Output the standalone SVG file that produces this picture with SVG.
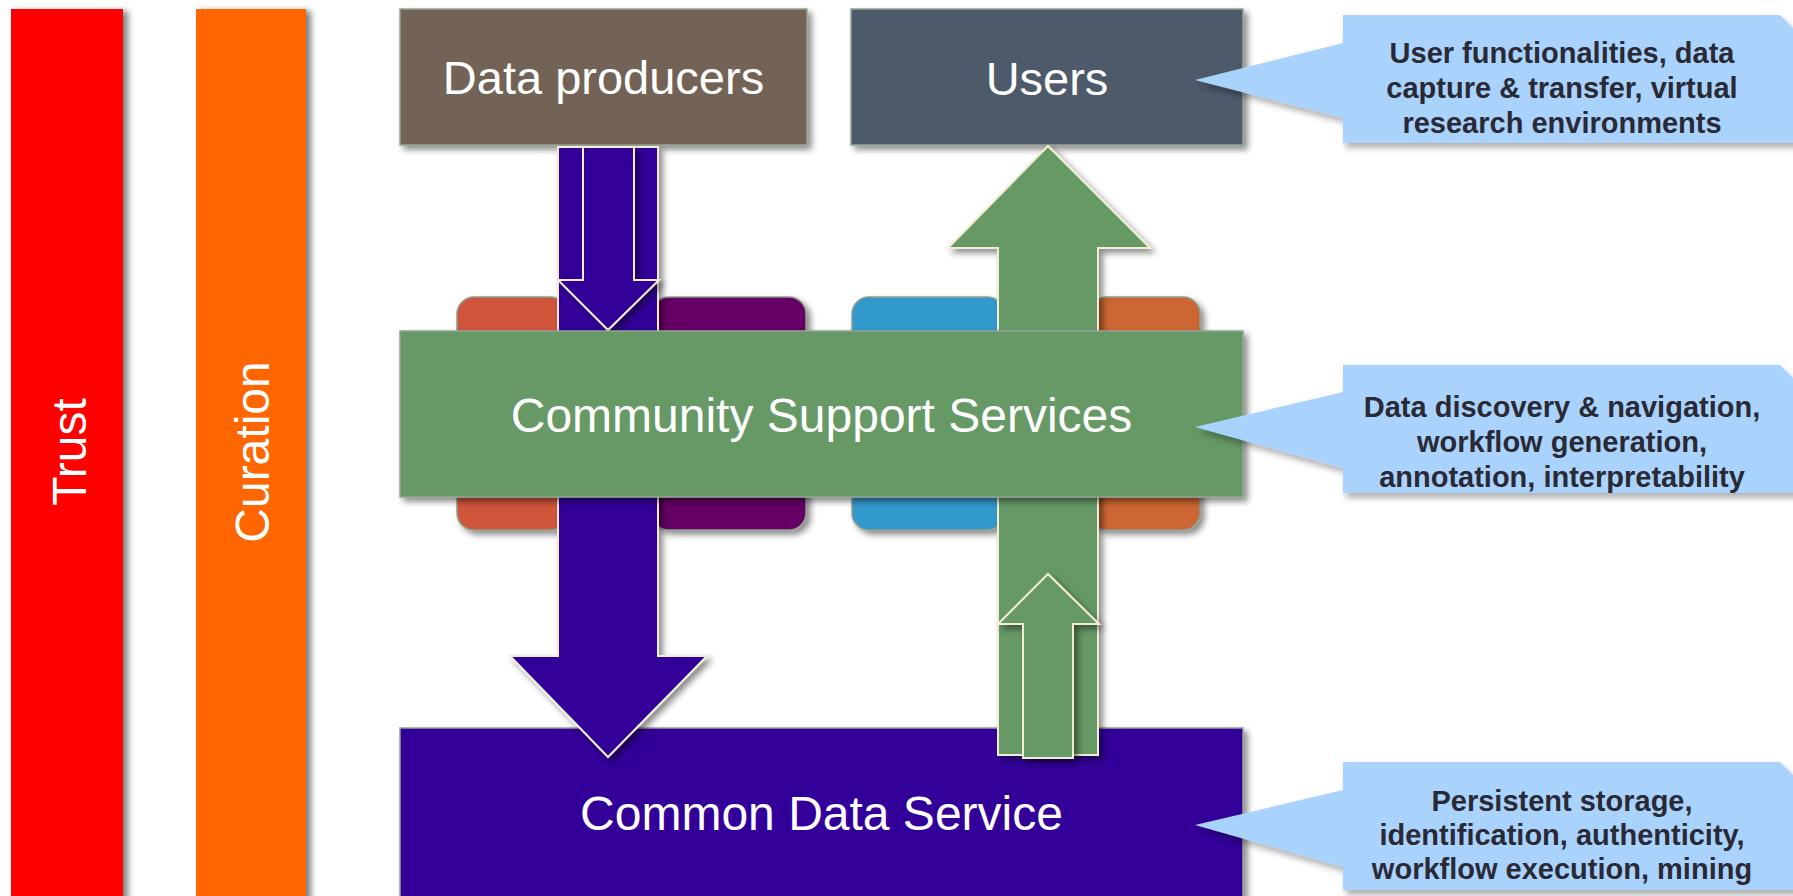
<svg xmlns="http://www.w3.org/2000/svg" width="1793" height="896" viewBox="0 0 1793 896">
  <defs>
    <filter id="shadow" x="-10%" y="-10%" width="130%" height="130%">
      <feDropShadow dx="4" dy="4" stdDeviation="3" flood-color="#000" flood-opacity="0.45"/>
    </filter>
    <filter id="shadowSide" x="-10%" y="-5%" width="130%" height="115%">
      <feDropShadow dx="5" dy="2" stdDeviation="3" flood-color="#000" flood-opacity="0.5"/>
    </filter>
    <filter id="shadowSoft" x="-10%" y="-20%" width="130%" height="150%">
      <feDropShadow dx="3" dy="5" stdDeviation="3" flood-color="#000" flood-opacity="0.3"/>
    </filter>
  </defs>
  <style>
    .box { stroke: #93a493; stroke-width: 1.5; filter: url(#shadow); }
    .tile { stroke: #8f9e8f; stroke-width: 1.5; filter: url(#shadow); }
    .arrow { stroke: #f2eed6; stroke-width: 2; stroke-linejoin: miter; filter: url(#shadow); }
    .band { filter: url(#shadowSide); }
    .big { font-family: "Liberation Sans", Arial, sans-serif; fill: #ffffff; text-anchor: middle; }
    .note { fill: #a9d3fd; filter: url(#shadowSoft); }
    .noteText { font-family: "Liberation Sans", Arial, sans-serif; font-weight: bold; font-size: 29px; fill: #2a2a36; text-anchor: middle; }
  </style>

  <rect width="1793" height="896" fill="#ffffff"/>

  <!-- vertical side bands -->
  <g id="trust">
    <rect class="band" x="11" y="9" width="112" height="900" fill="#ff0000"/>
    <text class="big" font-size="48" transform="translate(86 452) rotate(-90)">Trust</text>
  </g>
  <g id="curation">
    <rect class="band" x="196" y="9" width="110" height="900" fill="#ff6600"/>
    <text class="big" font-size="48" transform="translate(269 452) rotate(-90)">Curation</text>
  </g>

  <!-- community tiles behind the support services bar -->
  <g id="tiles">
    <rect class="tile" x="457" y="297" width="110" height="233" rx="17" fill="#cf543a"/>
    <rect class="tile" x="652" y="297" width="154" height="233" rx="17" fill="#660066"/>
    <rect class="tile" x="852" y="297" width="152" height="233" rx="17" fill="#3399cc"/>
    <rect class="tile" x="1090" y="297" width="110" height="233" rx="17" fill="#cc6633"/>
  </g>

  <g id="data-producers">
    <rect class="box" x="400" y="9" width="407" height="136" fill="#736357"/>
    <text class="big" font-size="47" x="603.5" y="94">Data producers</text>
  </g>

  <g id="users">
    <rect class="box" x="851" y="9" width="392" height="136" fill="#4d5a6a"/>
    <text class="big" font-size="47" x="1047" y="95">Users</text>
  </g>

  <g id="common-data-service">
    <rect class="box" x="400" y="728" width="843" height="180" fill="#330099"/>
    <text class="big" font-size="48" x="821.5" y="830">Common Data Service</text>
  </g>

  <!-- flow arrows -->
  <g id="connectors">
    <polygon class="arrow" fill="#330099" points="558,147 658,147 658,656 707,656 608,757 510,656 558,656"/>
    <polygon class="arrow" fill="#330099" points="583,147 634,147 634,280 659,280 608,330 558,280 583,280"/>
    <polygon class="arrow" fill="#669966" points="998,755 998,248 948,248 1048,146 1150,248 1098,248 1098,755"/>
    <polygon class="arrow" fill="#669966" points="1023,758 1023,624 998,624 1048,574 1099,624 1073,624 1073,758"/>
  </g>

  <g id="community-support-services">
    <rect class="box" x="400" y="331" width="843" height="166" fill="#669966" stroke="none"/>
    <text class="big" font-size="48" x="821.5" y="432">Community Support Services</text>
  </g>

  <!-- callouts -->
  <g id="note-users">
    <path class="note" d="M1343,15 L1780,15 L1805,40 L1805,143 L1343,143 L1343,118 L1195,80 L1343,43 Z"/>
    <text class="noteText" x="1562" y="63">User functionalities, data</text>
    <text class="noteText" x="1562" y="98">capture &amp; transfer, virtual</text>
    <text class="noteText" x="1562" y="133">research environments</text>
  </g>
  <g id="note-community">
    <path class="note" d="M1343,365 L1780,365 L1805,390 L1805,493 L1343,493 L1343,468 L1195,427 L1343,392 Z"/>
    <text class="noteText" x="1562" y="417">Data discovery &amp; navigation,</text>
    <text class="noteText" x="1562" y="452">workflow generation,</text>
    <text class="noteText" x="1562" y="487">annotation, interpretability</text>
  </g>
  <g id="note-common">
    <path class="note" d="M1343,762 L1780,762 L1805,787 L1805,890 L1343,890 L1343,867 L1195,825 L1343,790 Z"/>
    <text class="noteText" x="1562" y="811">Persistent storage,</text>
    <text class="noteText" x="1562" y="845">identification, authenticity,</text>
    <text class="noteText" x="1562" y="879">workflow execution, mining</text>
  </g>
</svg>
